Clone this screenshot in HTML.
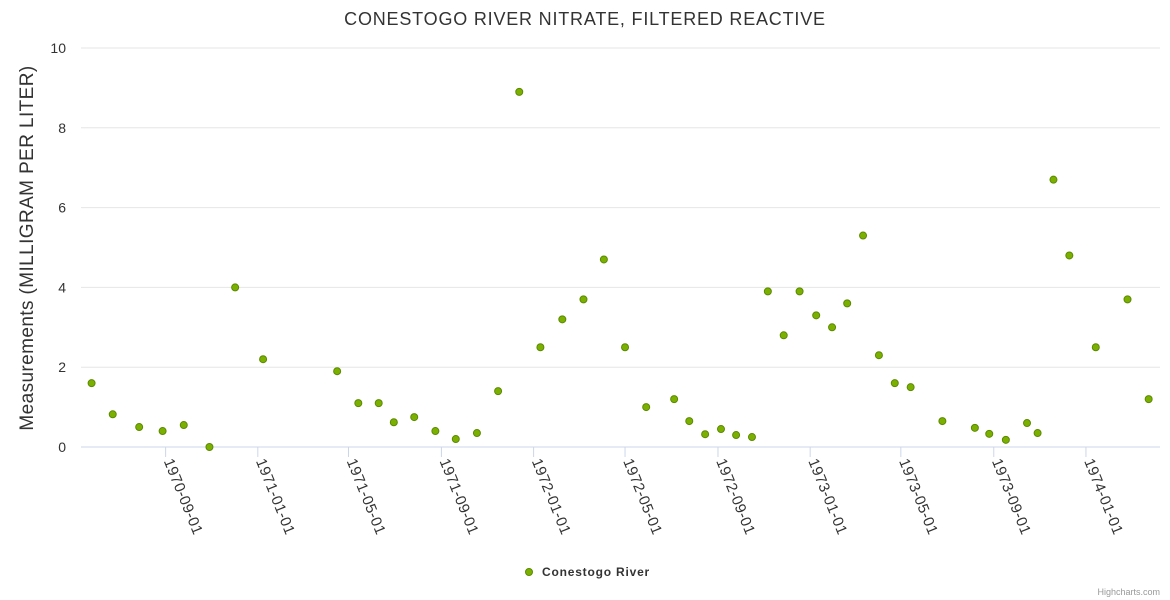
<!DOCTYPE html>
<html><head><meta charset="utf-8"><style>
html,body{margin:0;padding:0;background:#fff;}
svg{display:block;font-family:"Liberation Sans",sans-serif;}
</style></head><body>
<svg id="chart" width="1170" height="600">
<text x="585" y="25" text-anchor="middle" font-size="18" letter-spacing="0.8" fill="#333">CONESTOGO RIVER NITRATE, FILTERED REACTIVE</text>
<text transform="translate(33,248) rotate(-90)" text-anchor="middle" font-size="19" letter-spacing="0.4" fill="#333">Measurements (MILLIGRAM PER LITER)</text>
<g id="grid"></g><g id="xaxis"></g><g id="pts"></g>
<g>
<circle cx="529" cy="572" r="3.5" fill="#7cb000" stroke="#5a8a00" stroke-width="1"/>
<text x="542" y="576" font-size="12" letter-spacing="0.8" font-weight="bold" fill="#333">Conestogo River</text>
</g>
<text x="1160" y="595" text-anchor="end" font-size="9" fill="#999">Highcharts.com</text>
</svg>
<script>
const dates=["1970-05-26","1970-06-23","1970-07-28","1970-08-28","1970-09-25","1970-10-29","1970-12-02","1971-01-08","1971-04-16","1971-05-14","1971-06-10","1971-06-30","1971-07-27","1971-08-24","1971-09-20","1971-10-18","1971-11-15","1971-12-13","1972-01-10","1972-02-08","1972-03-07","1972-04-03","1972-05-01","1972-05-29","1972-07-05","1972-07-25","1972-08-15","1972-09-05","1972-09-25","1972-10-16","1972-11-06","1972-11-27","1972-12-18","1973-01-09","1973-01-30","1973-02-19","1973-03-12","1973-04-02","1973-04-23","1973-05-14","1973-06-25","1973-08-07","1973-08-26","1973-09-17","1973-10-15","1973-10-29","1973-11-19","1973-12-10","1974-01-14","1974-02-25","1974-03-25"];
const values=[1.6,0.82,0.5,0.4,0.55,0,4.0,2.2,1.9,1.1,1.1,0.62,0.75,0.4,0.2,0.35,1.4,8.9,2.5,3.2,3.7,4.7,2.5,1.0,1.2,0.65,0.32,0.45,0.3,0.25,3.9,2.8,3.9,3.3,3.0,3.6,5.3,2.3,1.6,1.5,0.65,0.48,0.33,0.18,0.6,0.35,6.7,4.8,2.5,3.7,1.2];
const xTicks=["1970-09-01","1971-01-01","1971-05-01","1971-09-01","1972-01-01","1972-05-01","1972-09-01","1973-01-01","1973-05-01","1973-09-01","1974-01-01"];
const yTicks=[0,2,4,6,8,10];
const NS="http://www.w3.org/2000/svg";
const L=81,R=1160,T=48,B=447;
const t0=Date.UTC(1970,4,12),t1=Date.UTC(1974,3,9);
const ms=s=>{const p=s.split('-');return Date.UTC(+p[0],p[1]-1,+p[2]);};
const X=s=>L+(ms(s)-t0)/(t1-t0)*(R-L);
const Y=v=>B-v/10*(B-T);
function mk(tag,a,parent){const e=document.createElementNS(NS,tag);for(const k in a)e.setAttribute(k,a[k]);parent.appendChild(e);return e;}
const g=document.getElementById('grid');
yTicks.forEach(v=>{
 const ln=mk('line',{x1:L,x2:R,y1:Y(v),y2:Y(v),stroke:v===0?'#ccd6eb':'#e6e6e6','stroke-width':1},g);
 
 
 const t=mk('text',{x:66,y:Y(v)+5,'text-anchor':'end','font-size':'14',fill:'#333'},g);
 t.textContent=v;
 
 
});
const xa=document.getElementById('xaxis');
xTicks.forEach(s=>{
 const x=X(s);
 const tk=mk('line',{x1:x,x2:x,y1:B,y2:B+10,stroke:'#ccd6eb'},xa);
 
 
 const t=mk('text',{transform:`translate(${x-2},${B+14}) rotate(68)`,'font-size':'15','letter-spacing':'0.4',fill:'#333'},xa);
 t.textContent=s;
 
 
});
const pg=document.getElementById('pts');
dates.forEach((d,i)=>{
 const c=mk('circle',{cx:X(d),cy:Y(values[i]),r:3.5,fill:'#7cb000',stroke:'#5a8a00','stroke-width':1},pg);
 
 
});
</script>
</body></html>
